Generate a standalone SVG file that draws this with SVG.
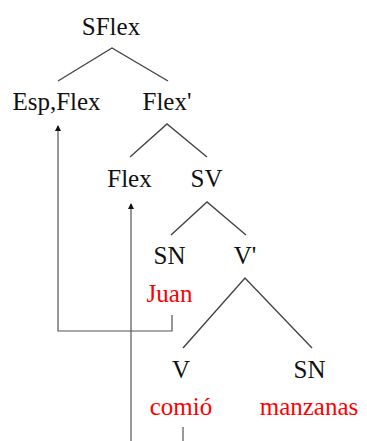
<svg xmlns="http://www.w3.org/2000/svg" width="367" height="441" viewBox="0 0 367 441">
<defs>
<style>
text{font-family:"Liberation Serif","Times New Roman",serif;font-size:25px;text-anchor:middle;fill:#111}
.red{fill:#ff0000}
.br{stroke:#444;stroke-width:1.4;fill:none}
.mv{stroke:#555;stroke-width:1.2;fill:none}
</style>
<marker id="ah" viewBox="0 0 6 6" refX="5" refY="3" markerWidth="6" markerHeight="6" markerUnits="userSpaceOnUse" orient="auto">
<path d="M0,0 L6,3 L0,6 Z" fill="#111"/>
</marker>
</defs>
<rect width="367" height="441" fill="#fff"/>
<g id="connectors">
<path class="br" d="M58,81 L112,48 L168,81"/>
<path class="br" d="M130,157 L167,124 L207,157"/>
<path class="br" d="M171,235 L207,202 L246,235"/>
<path class="br" d="M183,348 L245,278 L312,348"/>
<path class="mv" d="M172,315 L172,331 L58,331 L58,126" marker-end="url(#ah)"/>
<path class="mv" d="M131,441 L131,204" marker-end="url(#ah)"/>
<path class="mv" d="M183,427 L183,441"/>
</g>
<g id="n-sflex"><text x="111" y="35">SFlex</text></g>
<g id="n-espflex"><text x="56.5" y="110">Esp,Flex</text></g>
<g id="n-flexbar"><text x="167" y="110">Flex'</text></g>
<g id="n-flex"><text x="129.5" y="187">Flex</text></g>
<g id="n-sv"><text x="206.5" y="187">SV</text></g>
<g id="n-sn1"><text x="169.5" y="264">SN</text><text class="red" x="169.5" y="302">Juan</text></g>
<g id="n-vbar"><text x="245" y="264">V'</text></g>
<g id="n-v"><text x="181" y="378">V</text><text class="red" x="181" y="415">comió</text></g>
<g id="n-sn2"><text x="309.5" y="378">SN</text><text class="red" x="309" y="415">manzanas</text></g>
</svg>
